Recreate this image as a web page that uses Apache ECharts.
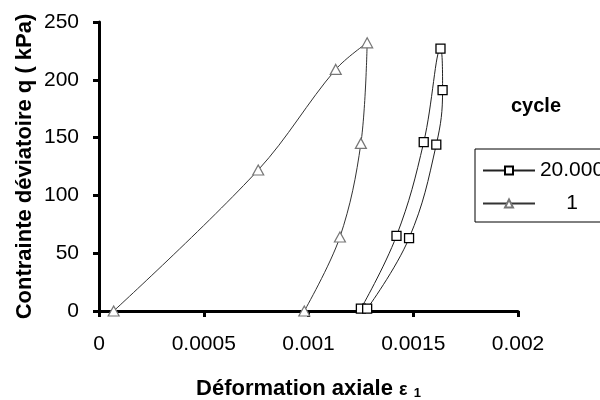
<!DOCTYPE html>
<html>
<head>
<meta charset="utf-8">
<script src="https://cdn.jsdelivr.net/npm/echarts@6/dist/echarts.min.js"></script>
<style>html,body{margin:0;padding:0;background:#fff}#c{width:600px;height:400px}</style>
</head>
<body>
<div id="c"></div>
<script>
// Data
const cycle1Strain = [0.00007, 0.00076, 0.00113, 0.00128, 0.00125, 0.00115, 0.00098];
const cycle1Q      = [0, 122, 209, 232, 145, 64, 0];
const cycle20000Strain = [0.00125, 0.00142, 0.00155, 0.00163, 0.00164, 0.00161, 0.00148, 0.00128];
const cycle20000Q      = [2, 65, 146, 227, 191, 144, 63, 2];
const seriesNames = ['20.000', '1'];
const xTickLabels = ['0', '0.0005', '0.001', '0.0015', '0.002'];
const yTickLabels = ['0', '50', '100', '150', '200', '250'];
const xTitle = 'Déformation axiale';
const yTitle = 'Contrainte déviatoire q ( kPa)';
const legendTitle = 'cycle';

const FONT = '"Liberation Sans", Arial, sans-serif';
const chart = echarts.init(document.getElementById('c'), null, {renderer: 'canvas'});

function pairs(xs, ys) { return xs.map((x, i) => [x, ys[i]]); }

chart.setOption({
  animation: false,
  backgroundColor: '#fff',
  textStyle: {fontFamily: FONT},
  grid: {left: 99, top: 22, right: 82, bottom: 89, containLabel: false, outerBoundsMode: 'none'},
  xAxis: {
    type: 'value', min: 0, max: 0.002, interval: 0.0005,
    name: xTitle + ' {eps|ε} {sub|1}',
    nameLocation: 'middle', nameGap: 66, nameMoveOverlap: false,
    nameTextStyle: {
      fontFamily: FONT, fontSize: 22, fontWeight: 'bold', color: '#000',
      rich: {
        eps: {fontFamily: FONT, fontSize: 18, fontWeight: 'bold', color: '#000', padding: [3, 0, 0, 0]},
        sub: {fontFamily: FONT, fontSize: 13, fontWeight: 'bold', color: '#000', padding: [10, 0, 0, 0]}
      }
    },
    axisLine: {onZero: false, lineStyle: {color: '#000', width: 3}},
    axisTick: {show: true, length: 6, lineStyle: {color: '#000', width: 3}},
    axisLabel: {
      margin: 23, fontSize: 21, color: '#000', fontFamily: FONT,
      formatter: v => xTickLabels[Math.round(v / 0.0005)] ?? ''
    },
    splitLine: {show: false}
  },
  yAxis: {
    type: 'value', min: 0, max: 250, interval: 50,
    name: yTitle, nameLocation: 'middle', nameGap: 63, nameRotate: 90, nameMoveOverlap: false,
    nameTextStyle: {fontFamily: FONT, fontSize: 22, fontWeight: 'bold', color: '#000'},
    axisLine: {onZero: false, lineStyle: {color: '#000', width: 3}},
    axisTick: {show: true, length: 6, lineStyle: {color: '#000', width: 3}},
    axisLabel: {
      margin: 20, fontSize: 21, color: '#000', fontFamily: FONT,
      formatter: v => yTickLabels[Math.round(v / 50)] ?? ''
    },
    splitLine: {show: false}
  },
  legend: {
    orient: 'vertical', left: 475, top: 149,
    padding: [11, 0, 8, 7],
    borderColor: '#000', borderWidth: 1,
    itemWidth: 52, itemHeight: 10, itemGap: 12,
    data: seriesNames,
    formatter: name => '{c|' + name + '}',
    textStyle: {
      fontFamily: FONT, fontSize: 21, color: '#000',
      rich: {c: {fontFamily: FONT, fontSize: 21, color: '#000', width: 64, align: 'center'}}
    }
  },
  graphic: [{
    type: 'text', left: 511, top: 96,
    style: {text: legendTitle, fontFamily: FONT, fontSize: 20, fontWeight: 'bold', fill: '#000'}
  }],
  series: [
    {
      name: seriesNames[0], type: 'line', smooth: 0.4,
      data: pairs(cycle20000Strain, cycle20000Q),
      symbol: 'rect', symbolSize: 9, showAllSymbol: true,
      lineStyle: {color: '#222', width: 1},
      itemStyle: {color: '#fff', borderColor: '#000', borderWidth: 1.3},
      z: 3
    },
    {
      name: seriesNames[1], type: 'line', smooth: 0.35,
      data: pairs(cycle1Strain, cycle1Q),
      symbol: 'triangle', symbolSize: [11, 10], showAllSymbol: true,
      lineStyle: {color: '#333', width: 1},
      itemStyle: {color: '#fff', borderColor: '#777', borderWidth: 1.2},
      z: 3
    }
  ]
});
</script>
</body>
</html>
